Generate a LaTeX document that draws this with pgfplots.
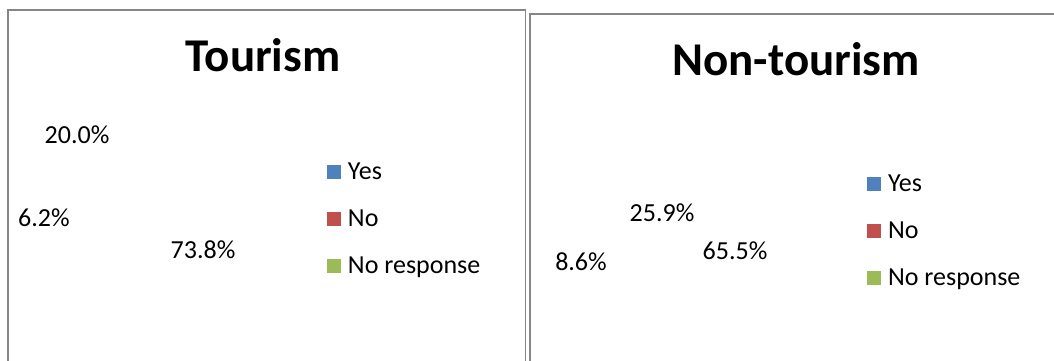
\documentclass[border=0pt]{standalone}
\usepackage{pgfplots}
\pgfplotsset{compat=1.18}
\usepackage{fontspec}
\setmainfont{Carlito}
\definecolor{yescol}{RGB}{79,129,189}
\definecolor{nocol}{RGB}{192,80,77}
\definecolor{nrcol}{RGB}{155,187,89}
\definecolor{framecol}{RGB}{134,134,134}
\pgfplotsset{
 panel/.style={scale only axis, clip=false, xtick=\empty, ytick=\empty,
   axis line style={framecol, line width=1.6pt}, anchor=south west,
   title style={font=\fontsize{47}{51}\selectfont\bfseries, anchor=center},
   legend image code/.code={\fill[##1,draw=none] (0pt,-7pt) rectangle (14pt,7pt);},
   legend style={draw=none, fill=none, inner sep=0pt, outer sep=0pt, anchor=north west,
     row sep=23pt, column sep=7pt, font=\fontsize{26}{30}\selectfont,
     nodes={inner sep=0pt, text height=19pt, text depth=5pt}},
   legend cell align=left,
 },
 lbl/.style={only marks, mark=*, mark size=0pt, mark options={draw=none, fill=none},
   nodes near coords, point meta=explicit symbolic,
   every node near coord/.append style={anchor=center, font=\fontsize{26}{30}\selectfont, inner sep=0pt},
   forget plot}
}
\begin{document}
\begin{tikzpicture}
\useasboundingbox (0pt,0pt) rectangle (1054pt,360pt);
% Tourism panel
\begin{axis}[panel, at={(8pt,-20pt)}, width=517.5pt, height=370pt,
  xmin=0, xmax=517.5, ymin=0, ymax=370,
  title={Tourism}, title style={at={(0.4928,0.8622)}},
  legend style={at={(0.6164,0.5946)}}]
\addplot[lbl] table[meta=label] {
x y label
69 245 20.0\%
36 162 6.2\%
195 130 73.8\%
};
\addlegendimage{fill=yescol}
\addlegendimage{fill=nocol}
\addlegendimage{fill=nrcol}
\legend{Yes,No,No response}
\end{axis}
% Non-tourism panel
\begin{axis}[panel, at={(530pt,-20pt)}, width=540pt, height=366pt,
  xmin=0, xmax=540, ymin=0, ymax=366,
  title={Non-tourism}, title style={at={(0.4926,0.8607)}},
  legend style={at={(0.6241,0.5683)}}]
\addplot[lbl] table[meta=label] {
x y label
132 167 25.9\%
51 118 8.6\%
205 129 65.5\%
};
\addlegendimage{fill=yescol}
\addlegendimage{fill=nocol}
\addlegendimage{fill=nrcol}
\legend{Yes,No,No response}
\end{axis}
\end{tikzpicture}
\end{document}
